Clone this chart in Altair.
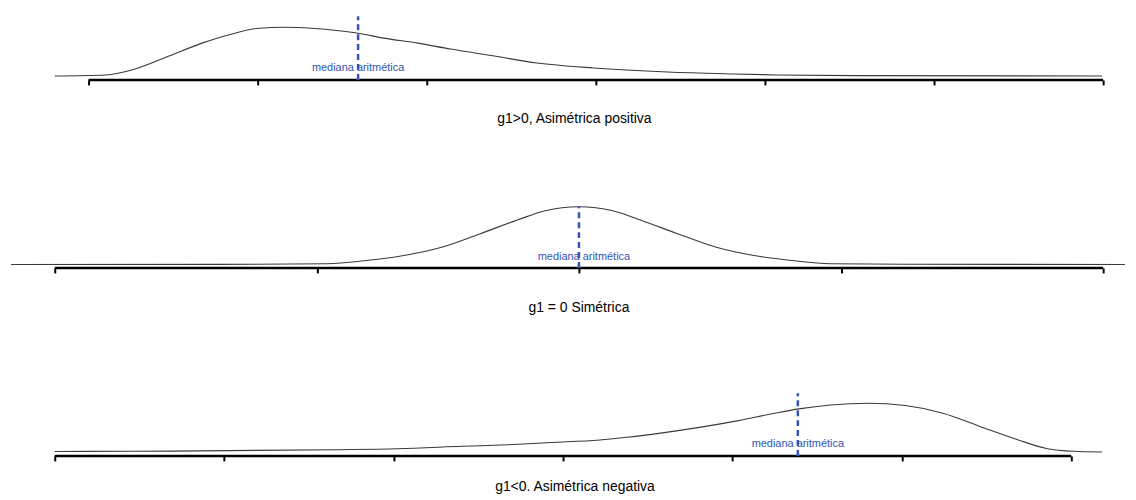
import altair as alt
import pandas as pd

FONT = "Liberation Sans"
BLUE = "#3553b5"
CURVE = "#3a3a3a"
LABEL = "mediana aritmética"

# ---------------- Panel 1: g1>0 (positive skew) ----------------
p1_x = [-0.2, 0.1, 0.276, 0.476, 0.671, 0.865, 1.006, 1.159, 1.318, 1.453, 1.594,
        1.747, 1.947, 2.141, 2.4, 2.653, 2.988, 3.424, 3.812, 4.065, 4.53, 5.994]
p1_y = [0, 1, 7, 20, 33, 43, 48, 49, 48, 46, 43,
        38, 33, 27, 20, 13, 8, 4, 2, 1, 0.3, 0]
p1_ticks = [0, 1, 2, 3, 4, 5, 6]
p1_median = 1.594
p1_median_top = 60
p1_title = "g1>0, Asimétrica positiva"

# ---------------- Panel 2: g1 = 0 (symmetric) ----------------
p2_x = [-0.167, 0.751, 1.04, 1.188, 1.332, 1.476, 1.624, 1.768, 1.871, 2.0,
        2.129, 2.231, 2.376, 2.524, 2.668, 2.812, 2.96, 3.249, 4.083]
p2_y = [0, 0.2, 0.7, 4, 9, 17.3, 31, 45, 54, 58,
        54, 45, 31, 17.3, 9, 4, 0.7, 0.2, 0]
p2_ticks = [0, 1, 2, 3, 4]
p2_median = 2.0
p2_median_top = 58
p2_title = "g1 = 0 Simétrica"

# ---------------- Panel 3: g1<0 (negative skew) ----------------
p3_x = [0, 0.44, 1.661, 2.02, 2.407, 2.677, 2.93, 3.217, 3.364, 3.699, 4.027,
        4.251, 4.391, 4.579, 4.802, 5.02, 5.243, 5.46, 5.683, 5.859, 6.012, 6.182]
p3_y = [0.5, 0.7, 2.3, 3.3, 5.7, 7.3, 9.5, 12, 14.5, 22, 31.3,
        39, 43.3, 47.3, 49, 46.7, 39, 25.7, 12.3, 3.3, 0.7, 0]
p3_ticks = [0, 1, 2, 3, 4, 5, 6]
p3_median = 4.386
p3_median_top = 59
p3_title = "g1<0. Asimétrica negativa"

W = 1120


def panel(cx, cy, ticks, med, med_top, title, xdom, ydom, h, title_x, title_pad, label_y, label_dx):
    xs = alt.Scale(domain=xdom, nice=False, zero=False)
    ys = alt.Scale(domain=ydom, nice=False, zero=False)
    xaxis = alt.Axis(values=ticks, labels=False, domain=False, grid=False,
                     ticks=True, tickSize=5, tickWidth=2, tickColor="black",
                     title=title, titleFont=FONT, titleFontSize=14,
                     titleFontWeight="normal", titleColor="black",
                     titlePadding=title_pad, titleX=title_x)

    def X(f="x"):
        return alt.X(f"{f}:Q", scale=xs, axis=xaxis)

    def Y(f="y"):
        return alt.Y(f"{f}:Q", scale=ys, axis=None)

    curve = alt.Chart(pd.DataFrame({"x": cx, "y": cy})).mark_line(
        color=CURVE, strokeWidth=1.1, interpolate="monotone"
    ).encode(x=X(), y=Y())

    axis_line = alt.Chart(pd.DataFrame({"x": [ticks[0]], "x2": [ticks[-1]], "y": [ydom[0]]})).mark_rule(
        color="black", strokeWidth=2.5
    ).encode(x=X(), x2="x2:Q", y=Y())

    med_df = pd.DataFrame({"x": [med], "y": [ydom[0]], "y2": [med_top]})
    med_line = alt.Chart(med_df).mark_rule(
        color=BLUE, strokeWidth=2.5, strokeDash=[6, 4]
    ).encode(x=X(), y=Y(), y2="y2:Q")

    med_pt = alt.Chart(pd.DataFrame({"x": [med], "y": [ydom[0] + 1.5]})).mark_point(
        filled=True, color=BLUE, size=14, shape="triangle-up", opacity=1
    ).encode(x=X(), y=Y())

    label = alt.Chart(pd.DataFrame({"x": [med], "y": [label_y], "t": [LABEL]})).mark_text(
        font=FONT, fontSize=11, color=BLUE, align="center", baseline="alphabetic", dx=label_dx
    ).encode(x=X(), y=Y(), text="t:N")

    return alt.layer(curve, axis_line, med_line, med_pt, label).properties(width=W, height=h)


c1 = panel(p1_x, p1_y, p1_ticks, p1_median, p1_median_top, p1_title,
           [-78 / 170, 1042 / 170], [-4, 67], 71, 566, 25.95, 5, 0)
c2 = panel(p2_x, p2_y, p2_ticks, p2_median, p2_median_top, p2_title,
           [-44 / 263.5, 1076 / 263.5], [-3.5, 69.55], 73.05, 570.5, 26.95, 4.5, 5)
c3 = panel(p3_x, p3_y, p3_ticks, p3_median, p3_median_top, p3_title,
           [-44 / 170.33, 1076 / 170.33], [-4, 68.05], 72.05, 566.5, 17.45, 5, 0)

chart = alt.vconcat(c1, c2, c3, spacing=70, padding=0).configure_view(stroke=None)

chart.save("out.html", embed_options={"renderer": "svg", "actions": False})
